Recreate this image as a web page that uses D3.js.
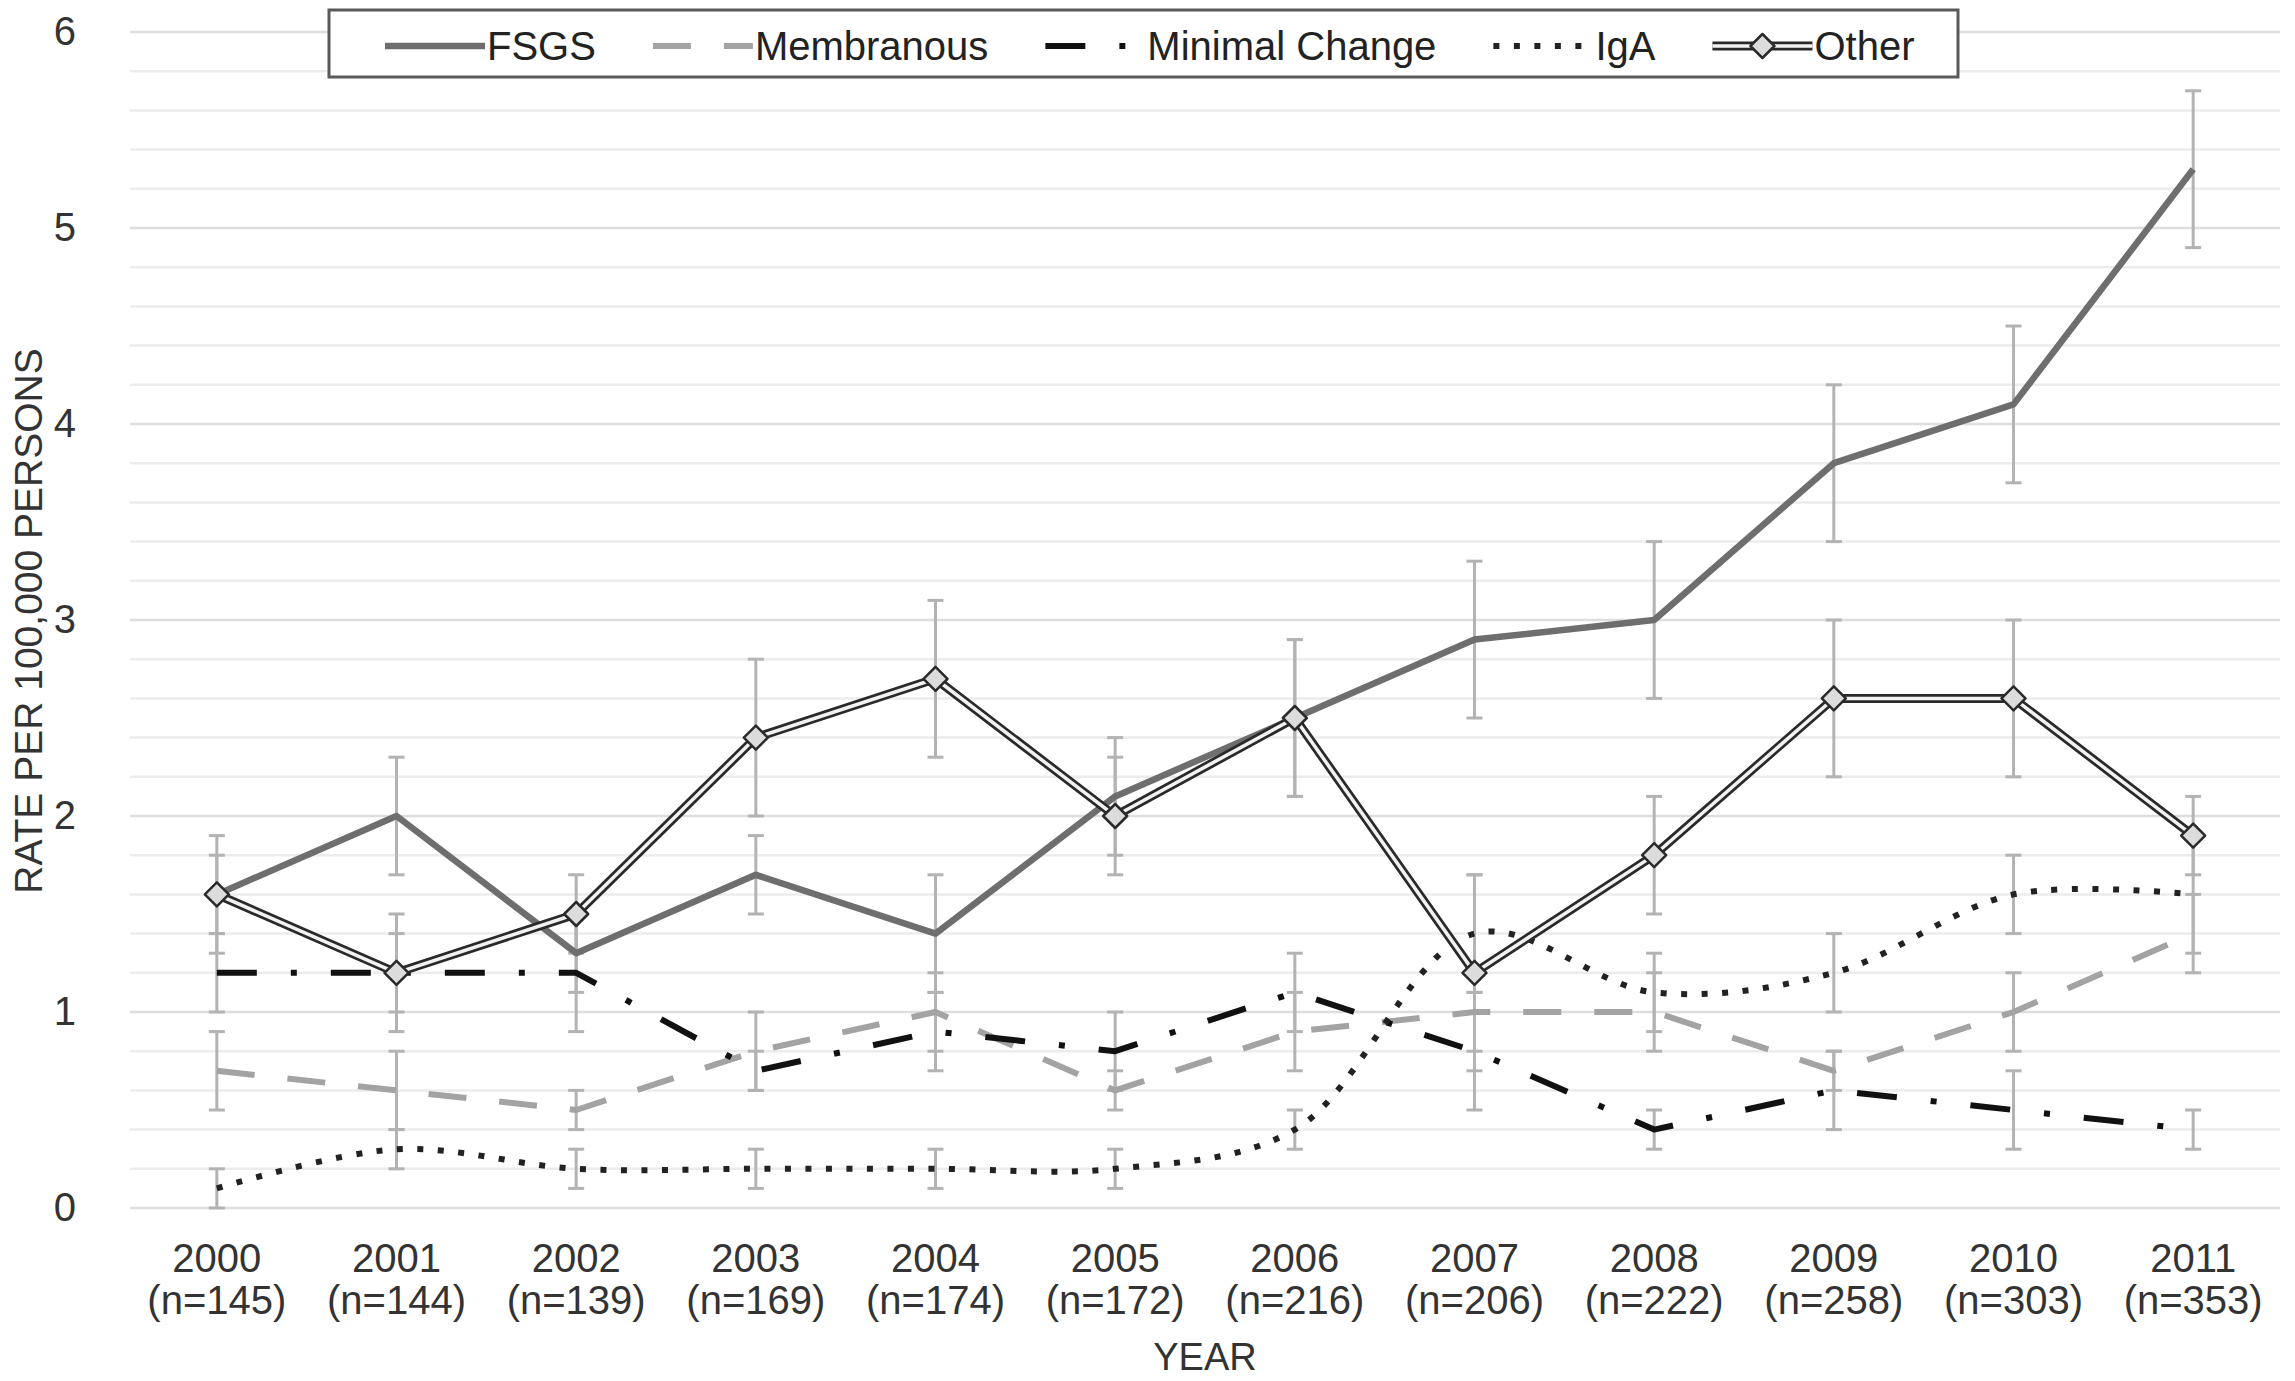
<!DOCTYPE html>
<html>
<head>
<meta charset="utf-8">
<script src="https://cdn.jsdelivr.net/npm/d3@7/dist/d3.min.js"></script>
<style>
  body { margin: 0; background: #fff; }
  text { font-family: "Liberation Sans", Arial, sans-serif; fill: #333; }
</style>
</head>
<body>
<svg id="chart" width="2295" height="1381"></svg>
<script>
// data
const years = ["2000", "2001", "2002", "2003", "2004", "2005", "2006", "2007", "2008", "2009", "2010", "2011"];
const counts = [145, 144, 139, 169, 174, 172, 216, 206, 222, 258, 303, 353];

const fsgs = [1.6, 2.0, 1.3, 1.7, 1.4, 2.1, 2.5, 2.9, 3.0, 3.8, 4.1, 5.3];
const fsgsErr = [0.3, 0.3, 0.2, 0.2, 0.3, 0.3, 0.4, 0.4, 0.4, 0.4, 0.4, 0.4];
const membranous = [0.7, 0.6, 0.5, 0.8, 1.0, 0.6, 0.9, 1.0, 1.0, 0.7, 1.0, 1.4];
const membranousErr = [0.2, 0.2, 0.1, 0.2, 0.2, 0.1, 0.2, 0.2, 0.2, 0.1, 0.2, 0.2];
const minimalChange = [1.2, 1.2, 1.2, 0.7, 0.9, 0.8, 1.1, 0.8, 0.4, 0.6, 0.5, 0.4];
const minimalChangeErr = [0.2, 0.2, 0.3, 0.1, 0.2, 0.2, 0.2, 0.3, 0.1, 0.2, 0.2, 0.1];
const iga = [0.1, 0.3, 0.2, 0.2, 0.2, 0.2, 0.4, 1.4, 1.1, 1.2, 1.6, 1.6];
const igaErr = [0.1, 0.1, 0.1, 0.1, 0.1, 0.1, 0.1, 0.3, 0.2, 0.2, 0.2, 0.3];
const other = [1.6, 1.2, 1.5, 2.4, 2.7, 2.0, 2.5, 1.2, 1.8, 2.6, 2.6, 1.9];
const otherErr = [0.2, 0.3, 0.2, 0.4, 0.4, 0.3, 0.4, 0.5, 0.3, 0.4, 0.4, 0.2];

const yTicks = [0, 1, 2, 3, 4, 5, 6];

const series = [
  { name: "FSGS", values: fsgs, err: fsgsErr, style: "solid" },
  { name: "Membranous", values: membranous, err: membranousErr, style: "dash" },
  { name: "Minimal Change", values: minimalChange, err: minimalChangeErr, style: "dashdot" },
  { name: "IgA", values: iga, err: igaErr, style: "dot" },
  { name: "Other", values: other, err: otherErr, style: "double" }
];

const svg = d3.select("#chart");

const x = d3.scaleBand().domain(years).range([127, 2283]);
const xc = (i) => x(years[i]) + x.bandwidth() / 2;
const y = d3.scaleLinear().domain([0, 6]).range([1208, 32]);

// gridlines every 0.2
const grid = d3.range(0, 6.001, 0.2);
svg.append("g")
  .selectAll("line")
  .data(grid)
  .join("line")
  .attr("x1", 130)
  .attr("x2", 2280)
  .attr("y1", (d) => y(d))
  .attr("y2", (d) => y(d))
  .attr("stroke", (d) => Math.abs(d - Math.round(d)) < 1e-6 ? "#dedede" : "#ececec")
  .attr("stroke-width", 2.5);

// y axis labels
const yAxis = svg.append("g")
  .attr("transform", "translate(76,0)")
  .call(d3.axisLeft(y).tickValues(yTicks).tickSize(0).tickPadding(0).tickFormat(d3.format("d")));
yAxis.select(".domain").remove();
yAxis.selectAll("text")
  .attr("font-size", 40)
  .style("fill", "#333")
  .attr("font-family", "Liberation Sans, Arial, sans-serif");

// x axis labels (two lines)
const xAxis = svg.append("g")
  .selectAll("g")
  .data(years)
  .join("g")
  .attr("transform", (d, i) => `translate(${xc(i)},0)`);
xAxis.append("text")
  .attr("y", 1272)
  .attr("text-anchor", "middle")
  .attr("font-size", 40)
  .text((d) => d);
xAxis.append("text")
  .attr("y", 1314)
  .attr("text-anchor", "middle")
  .attr("font-size", 40)
  .text((d, i) => `(n=${counts[i]})`);

svg.append("text")
  .attr("x", 1205)
  .attr("y", 1370)
  .attr("text-anchor", "middle")
  .attr("font-size", 38)
  .text("YEAR");

svg.append("text")
  .attr("transform", "translate(42,621) rotate(-90)")
  .attr("text-anchor", "middle")
  .attr("font-size", 39)
  .text("RATE PER 100,000 PERSONS");

// error bars
const errG = svg.append("g").attr("stroke", "#b3b3b3").attr("stroke-width", 3);
series.forEach((s) => {
  const g = errG.append("g")
    .selectAll("g")
    .data(s.values)
    .join("g");
  g.append("line")
    .attr("x1", (d, i) => xc(i))
    .attr("x2", (d, i) => xc(i))
    .attr("y1", (d, i) => y(d + s.err[i]))
    .attr("y2", (d, i) => y(Math.max(0, d - s.err[i])));
  g.append("line")
    .attr("x1", (d, i) => xc(i) - 8)
    .attr("x2", (d, i) => xc(i) + 8)
    .attr("y1", (d, i) => y(d + s.err[i]))
    .attr("y2", (d, i) => y(d + s.err[i]));
  g.append("line")
    .attr("x1", (d, i) => xc(i) - 8)
    .attr("x2", (d, i) => xc(i) + 8)
    .attr("y1", (d, i) => y(Math.max(0, d - s.err[i])))
    .attr("y2", (d, i) => y(Math.max(0, d - s.err[i])));
});

// line styling per series
function styleLine(sel, style) {
  if (style === "solid") {
    sel.attr("stroke", "#6e6e6e").attr("stroke-width", 6.5);
  } else if (style === "dash") {
    sel.attr("stroke", "#a3a3a3").attr("stroke-width", 6).attr("stroke-dasharray", "38,33");
  } else if (style === "dashdot") {
    sel.attr("stroke", "#111").attr("stroke-width", 6).attr("stroke-dasharray", "40,34,6,34");
  } else if (style === "dot") {
    sel.attr("stroke", "#222").attr("stroke-width", 6).attr("stroke-dasharray", "6,14.5");
  }
  return sel.attr("fill", "none").attr("stroke-linejoin", "round");
}

function diamond(g, cx, cy) {
  g.append("path")
    .attr("d", `M${cx},${cy - 12}L${cx + 12},${cy}L${cx},${cy + 12}L${cx - 12},${cy}Z`)
    .attr("fill", "#dcdcdc")
    .attr("stroke", "#2a2a2a")
    .attr("stroke-width", 2.5)
    .attr("stroke-linejoin", "round");
}

const linesG = svg.append("g");
series.forEach((s) => {
  const line = d3.line()
    .x((d, i) => xc(i))
    .y((d) => y(d))
    .curve(s.style === "dot" ? d3.curveCatmullRom.alpha(0.5) : d3.curveLinear);
  if (s.style === "double") {
    linesG.append("path")
      .attr("d", line(s.values))
      .attr("fill", "none")
      .attr("stroke", "#2a2a2a")
      .attr("stroke-width", 9);
    linesG.append("path")
      .attr("d", line(s.values))
      .attr("fill", "none")
      .attr("stroke", "#f2f2f2")
      .attr("stroke-width", 3.5);
    const mk = linesG.append("g");
    s.values.forEach((v, i) => diamond(mk, xc(i), y(v)));
  } else {
    styleLine(linesG.append("path").attr("d", line(s.values)), s.style);
  }
});

// legend
const legend = svg.append("g");
legend.append("rect")
  .attr("x", 329)
  .attr("y", 10)
  .attr("width", 1629)
  .attr("height", 67)
  .attr("fill", "#fff")
  .attr("stroke", "#5a5a5a")
  .attr("stroke-width", 3);

let lx = 385;
const ly = 46;
series.forEach((s) => {
  if (s.style === "double") {
    legend.append("line").attr("x1", lx).attr("x2", lx + 100).attr("y1", ly).attr("y2", ly)
      .attr("stroke", "#2a2a2a").attr("stroke-width", 9);
    legend.append("line").attr("x1", lx).attr("x2", lx + 100).attr("y1", ly).attr("y2", ly)
      .attr("stroke", "#f2f2f2").attr("stroke-width", 3.5);
    diamond(legend, lx + 50, ly);
  } else {
    styleLine(legend.append("line").attr("x1", lx).attr("x2", lx + 100).attr("y1", ly).attr("y2", ly), s.style);
  }
  const t = legend.append("text")
    .attr("x", lx + 102)
    .attr("y", ly + 14)
    .attr("font-size", 40)
    .style("fill", "#222")
    .text(s.name);
  lx += 102 + t.node().getComputedTextLength() + 57;
});
</script>
</body>
</html>
